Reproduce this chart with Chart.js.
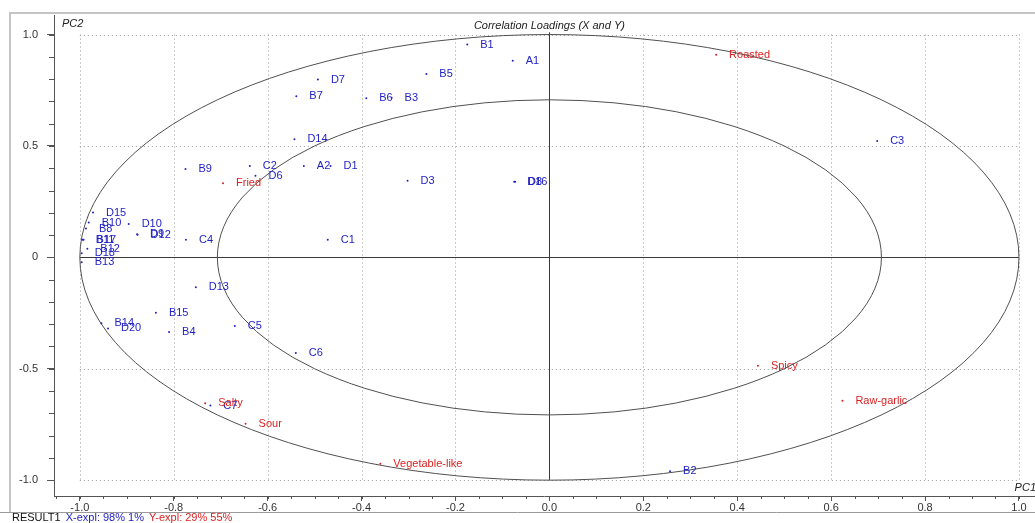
<!DOCTYPE html>
<html>
<head>
<meta charset="utf-8">
<script src="https://cdn.jsdelivr.net/npm/chart.js@4/dist/chart.umd.min.js"></script>
<style>
  html, body { margin: 0; padding: 0; background: #fff; }
  canvas { display: block; }
</style>
</head>
<body>
<canvas id="loadings" width="1035" height="523"></canvas>
<script>
// X loadings (blue)
const xNames = ['B1', 'A1', 'B5', 'D7', 'B7', 'B6', 'B3', 'D14', 'C2', 'A2', 'D1', 'D6', 'B9', 'C4', 'C1', 'D3', 'D8', 'D16',
    'D15', 'B10', 'D10', 'B8', 'D9', 'D12', 'B11', 'B17', 'B12', 'D18', 'B13', 'D13', 'B15', 'B14', 'D20', 'B4', 'C5', 'C6', 'C7', 'C3', 'B2'];
const xPC1 = [-0.175, -0.078, -0.262, -0.493, -0.539, -0.390, -0.336, -0.543, -0.638, -0.523, -0.466, -0.626, -0.775, -0.774, -0.472, -0.302, -0.073, -0.075,
    -0.972, -0.981, -0.896, -0.987, -0.878, -0.877, -0.994, -0.992, -0.984, -0.996, -0.996, -0.753, -0.838, -0.954, -0.940, -0.810, -0.670, -0.540, -0.722, 0.698, 0.257];
const xPC2 = [0.955, 0.882, 0.823, 0.798, 0.723, 0.714, 0.716, 0.530, 0.410, 0.410, 0.410, 0.366, 0.396, 0.079, 0.079, 0.344, 0.339, 0.339,
    0.201, 0.156, 0.150, 0.129, 0.104, 0.102, 0.079, 0.079, 0.039, 0.018, -0.022, -0.134, -0.249, -0.296, -0.319, -0.335, -0.308, -0.429, -0.665, 0.522, -0.960];

// Y loadings (red)
const yNames = ['Roasted', 'Fried', 'Spicy', 'Raw-garlic', 'Salty', 'Sour', 'Vegetable-like'];
const yPC1 = [0.355, -0.695, 0.444, 0.624, -0.733, -0.647, -0.360];
const yPC2 = [0.909, 0.333, -0.487, -0.643, -0.655, -0.747, -0.926];

const xTicks = [-1.0, -0.8, -0.6, -0.4, -0.2, 0, 0.2, 0.4, 0.6, 0.8, 1.0];
const yTicks = [-1.0, -0.5, 0, 0.5, 1.0];

const BLUE = '#2222c4';
const RED = '#d82222';
const FONT = '"Liberation Sans", Arial, sans-serif';

const canvas = document.getElementById('loadings');
const ctx = canvas.getContext('2d');

function toPoints(px, py) {
    return px.map((v, i) => ({ x: v, y: py[i] }));
}

// grid, circles, frame and texts
const decorPlugin = {
    id: 'decor',
    beforeDatasetsDraw(chart) {
        const c = chart.ctx;
        const sx = chart.scales.x, sy = chart.scales.y;
        c.save();
        // dotted grid inside the unit box
        c.strokeStyle = '#9a9a9a';
        c.lineWidth = 1;
        c.setLineDash([1, 3]);
        xTicks.forEach(v => {
            if (v === 0) return;
            const px = Math.round(sx.getPixelForValue(v)) + 0.5;
            c.beginPath();
            c.moveTo(px, sy.getPixelForValue(1));
            c.lineTo(px, sy.getPixelForValue(-1));
            c.stroke();
        });
        yTicks.forEach(v => {
            if (v === 0) return;
            const py = Math.round(sy.getPixelForValue(v)) + 0.5;
            c.beginPath();
            c.moveTo(sx.getPixelForValue(-1), py);
            c.lineTo(sx.getPixelForValue(1), py);
            c.stroke();
        });
        c.setLineDash([]);
        // zero lines
        c.strokeStyle = '#3a3a3a';
        const x0 = Math.round(sx.getPixelForValue(0)) + 0.5;
        const y0 = Math.round(sy.getPixelForValue(0)) + 0.5;
        c.beginPath();
        c.moveTo(x0, sy.getPixelForValue(1.01));
        c.lineTo(x0, sy.getPixelForValue(-1));
        c.moveTo(sx.getPixelForValue(-1), y0);
        c.lineTo(sx.getPixelForValue(1), y0);
        c.stroke();
        // circles r=1 and r=sqrt(0.5)
        c.strokeStyle = '#505050';
        [1, Math.sqrt(0.5)].forEach(r => {
            const rx = sx.getPixelForValue(r) - sx.getPixelForValue(0);
            const ry = sy.getPixelForValue(0) - sy.getPixelForValue(r);
            c.beginPath();
            c.ellipse(sx.getPixelForValue(0), sy.getPixelForValue(0), rx, ry, 0, 0, Math.PI * 2);
            c.stroke();
        });
        c.restore();
    },
    afterDatasetsDraw(chart) {
        const c = chart.ctx;
        const sx = chart.scales.x, sy = chart.scales.y;
        const area = chart.chartArea;
        c.save();
        c.font = '11px ' + FONT;
        c.textBaseline = 'middle';
        c.textAlign = 'left';
        chart.getDatasetMeta(0).data.forEach((pt, i) => {
            c.fillStyle = BLUE;
            c.fillText(xNames[i], pt.x + 13, pt.y);
        });
        chart.getDatasetMeta(1).data.forEach((pt, i) => {
            c.fillStyle = RED;
            c.fillText(yNames[i], pt.x + 13, pt.y);
        });
        // titles
        c.fillStyle = '#222';
        c.font = 'italic 11px ' + FONT;
        c.textAlign = 'center';
        c.fillText('Correlation Loadings (X and Y)', sx.getPixelForValue(0), area.top + 10);
        c.textAlign = 'left';
        c.fillText('PC2', area.left + 8, area.top + 8);
        c.textAlign = 'right';
        c.fillText('PC1', area.right + 2, area.bottom - 8);

        // minor ticks
        c.strokeStyle = '#555';
        c.lineWidth = 1;
        c.beginPath();
        for (let k = -21; k <= 20; k++) {
            const v = k * 0.05;
            const px = Math.round(sx.getPixelForValue(v)) + 0.5;
            if (px < area.left || px > area.right) continue;
            c.moveTo(px, area.bottom);
            c.lineTo(px, area.bottom + 3);
        }
        for (let k = -10; k <= 10; k++) {
            const v = k * 0.1;
            const py = Math.round(sy.getPixelForValue(v)) + 0.5;
            c.moveTo(area.left, py);
            c.lineTo(area.left - 5, py);
        }
        c.stroke();

        // window frame
        c.strokeStyle = '#c4c4c4';
        c.lineWidth = 2;
        c.beginPath();
        c.moveTo(10, 512);
        c.lineTo(10, 13);
        c.lineTo(1035, 13);
        c.stroke();
        c.lineWidth = 1;
        c.strokeStyle = '#9a9a9a';
        c.beginPath();
        c.moveTo(0, 512.5);
        c.lineTo(1035, 512.5);
        c.stroke();

        // status line
        c.font = '11px ' + FONT;
        c.textAlign = 'left';
        c.textBaseline = 'middle';
        let tx = 12;
        [['RESULT1', '#111'], ['X-expl: 98% 1%', BLUE], ['Y-expl: 29% 55%', RED]].forEach(s => {
            c.fillStyle = s[1];
            c.fillText(s[0], tx, 518);
            tx += c.measureText(s[0]).width + 5;
        });
        c.restore();
    }
};

const loadingsChart = new Chart(ctx, {
    type: 'scatter',
    data: {
        datasets: [{
            label: 'X',
            data: toPoints(xPC1, xPC2),
            backgroundColor: BLUE,
            borderColor: BLUE,
            pointRadius: 1,
            pointHoverRadius: 1,
            borderWidth: 0
        }, {
            label: 'Y',
            data: toPoints(yPC1, yPC2),
            backgroundColor: RED,
            borderColor: RED,
            pointRadius: 1,
            pointHoverRadius: 1,
            borderWidth: 0
        }]
    },
    options: {
        responsive: false,
        animation: false,
        devicePixelRatio: 1,
        layout: { padding: { left: 10, top: 14, right: 0, bottom: 10 } },
        plugins: {
            legend: { display: false },
            tooltip: { enabled: false }
        },
        scales: {
            x: {
                type: 'linear',
                min: -1.055,
                max: 1.032,
                afterBuildTicks: axis => { axis.ticks = xTicks.map(v => ({ value: v })); },
                afterFit: axis => { axis.height = 17; },
                grid: { display: true, drawOnChartArea: false, drawTicks: true, tickLength: 5, color: '#555' },
                border: { display: true, color: '#555' },
                ticks: {
                    color: '#333',
                    padding: 0,
                    maxRotation: 0,
                    autoSkip: false,
                    font: { family: FONT, size: 11 },
                    callback: v => v.toFixed(1)
                }
            },
            y: {
                type: 'linear',
                min: -1.071,
                max: 1.085,
                afterBuildTicks: axis => { axis.ticks = yTicks.map(v => ({ value: v })); },
                afterFit: axis => { axis.width = 44; },
                grid: { display: true, drawOnChartArea: false, drawTicks: true, tickLength: 7, color: '#555' },
                border: { display: true, color: '#555' },
                ticks: {
                    color: '#333',
                    padding: 9,
                    autoSkip: false,
                    font: { family: FONT, size: 11 },
                    callback: v => (v === 0 ? '0' : v.toFixed(1))
                }
            }
        }
    },
    plugins: [decorPlugin]
});
</script>
</body>
</html>
